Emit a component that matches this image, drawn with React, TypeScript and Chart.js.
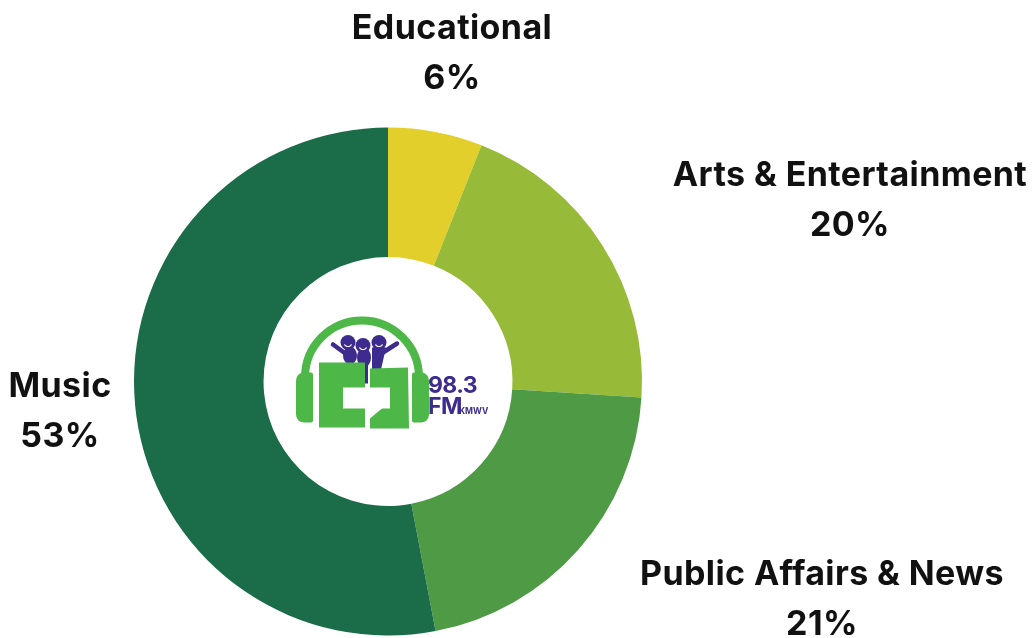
import { useEffect, useRef } from "react";
import { Chart, DoughnutController, ArcElement } from "chart.js";

Chart.register(DoughnutController, ArcElement);

// Programming mix by category (percent of airtime)
const categories = ["Educational", "Arts & Entertainment", "Public Affairs & News", "Music"];
const shares = [6, 20, 21, 53];
const sliceColors = ["#E3CF2B", "#97BA39", "#4E9A45", "#1B6C48"];

// Where each category caption sits (center x, first baseline)
const captionSpots = [
  { x: 452, y: 39 },
  { x: 850, y: 186 },
  { x: 822, y: 585 },
  { x: 60, y: 397 },
];
const captionLineGap = 50;

const LOGO_GREEN = "#4DB848";
const LOGO_PURPLE = "#3D2B8E";

function roundRect(ctx: CanvasRenderingContext2D, x: number, y: number, w: number, h: number, r: any) {
  ctx.beginPath();
  ctx.roundRect(x, y, w, h, r);
  ctx.fill();
}

const captionsPlugin = {
  id: "captions",
  afterDraw(chart: any) {
    const ctx: CanvasRenderingContext2D = chart.ctx;
    const values = chart.data.datasets[0].data as number[];
    ctx.save();
    ctx.fillStyle = "#111111";
    ctx.textAlign = "center";
    ctx.textBaseline = "alphabetic";
    ctx.font = "700 34px Inter";
    (ctx as any).letterSpacing = "0.4px";
    chart.data.labels.forEach((label: string, i: number) => {
      const spot = captionSpots[i];
      ctx.fillText(label, spot.x, spot.y);
      ctx.fillText(`${values[i]}%`, spot.x, spot.y + captionLineGap);
    });
    ctx.restore();
  },
};

const logoPlugin = {
  id: "centerLogo",
  afterDatasetsDraw(chart: any) {
    const arc = chart.getDatasetMeta(0).data[0];
    if (!arc) return;
    const ctx: CanvasRenderingContext2D = chart.ctx;
    ctx.save();
    ctx.translate(arc.x, arc.y);

    // headband
    ctx.strokeStyle = LOGO_GREEN;
    ctx.lineWidth = 8;
    ctx.beginPath();
    ctx.arc(-26, -4, 57, Math.PI, 2 * Math.PI);
    ctx.stroke();

    // ear cups
    ctx.fillStyle = LOGO_GREEN;
    roundRect(ctx, -92, -9, 17, 50, [8, 2, 2, 8]);
    roundRect(ctx, 24, -9, 17, 50, [2, 8, 8, 2]);

    // kids behind the speaker box
    const heads = [[-40, -39], [-25, -36], [-9, -39]];
    ctx.fillStyle = LOGO_PURPLE;
    ctx.strokeStyle = LOGO_PURPLE;
    ctx.lineCap = "round";
    ctx.lineWidth = 4.5;
    ctx.beginPath();
    ctx.moveTo(-44, -29);
    ctx.lineTo(-55, -37);
    ctx.moveTo(-5, -29);
    ctx.lineTo(9, -38);
    ctx.stroke();
    heads.forEach(([hx, hy]) => {
      ctx.beginPath();
      ctx.arc(hx, hy, 7.5, 0, Math.PI * 2);
      ctx.fill();
    });
    ctx.beginPath();
    ctx.ellipse(-38, -26, 7, 9, 0, 0, Math.PI * 2);
    ctx.ellipse(-24, -24, 7, 10, 0, 0, Math.PI * 2);
    ctx.fill();
    ctx.beginPath();
    ctx.moveTo(-16, -34);
    ctx.lineTo(-2, -34);
    ctx.lineTo(-7, -12);
    ctx.lineTo(-16, -12);
    ctx.closePath();
    ctx.fill();
    ctx.fillRect(-25, -28, 5, 30);

    // smiles
    ctx.strokeStyle = "#ffffff";
    ctx.lineWidth = 1.2;
    heads.forEach(([hx, hy]) => {
      ctx.beginPath();
      ctx.arc(hx, hy, 4, 0.2 * Math.PI, 0.8 * Math.PI);
      ctx.stroke();
    });

    // speaker box
    ctx.fillStyle = LOGO_GREEN;
    ctx.fillRect(-69, -19, 46, 65);
    ctx.beginPath();
    ctx.moveTo(-18, -13);
    ctx.lineTo(20, -14);
    ctx.lineTo(21, 47);
    ctx.lineTo(-18, 47);
    ctx.closePath();
    ctx.fill();

    // speech bubble cut-out
    ctx.fillStyle = "#ffffff";
    ctx.fillRect(-45, 6, 47, 21);
    ctx.beginPath();
    ctx.moveTo(-21, 26);
    ctx.lineTo(-5, 26);
    ctx.lineTo(-18, 37);
    ctx.closePath();
    ctx.fill();

    // wordmark
    ctx.fillStyle = LOGO_PURPLE;
    ctx.textAlign = "left";
    ctx.textBaseline = "alphabetic";
    ctx.font = "700 23px Inter";
    (ctx as any).letterSpacing = "-0.6px";
    ctx.fillText("98.3", 40, 11);
    ctx.fillText("FM", 40, 32);
    ctx.font = "700 8.5px Inter";
    (ctx as any).letterSpacing = "0px";
    ctx.fillText("KMWV", 71, 32);

    ctx.restore();
  },
};

export default function App() {
  const canvasRef = useRef<HTMLCanvasElement | null>(null);

  useEffect(() => {
    if (!canvasRef.current) return;
    const chart = new Chart(canvasRef.current, {
      type: "doughnut",
      data: {
        labels: categories,
        datasets: [
          {
            data: shares,
            backgroundColor: sliceColors,
            borderWidth: 0,
            hoverOffset: 0,
          },
        ],
      },
      options: {
        responsive: false,
        devicePixelRatio: 1,
        animation: false,
        cutout: "49%",
        layout: { padding: { left: 134, right: 392, top: 127, bottom: 2 } },
        plugins: { legend: { display: false }, tooltip: { enabled: false } } as any,
        events: [],
      },
      plugins: [logoPlugin, captionsPlugin],
    });
    return () => chart.destroy();
  }, []);

  return (
    <div style={{ position: "fixed", left: 0, top: 0, width: 1034, height: 638, background: "#ffffff" }}>
      <canvas ref={canvasRef} width={1034} height={638} />
    </div>
  );
}
